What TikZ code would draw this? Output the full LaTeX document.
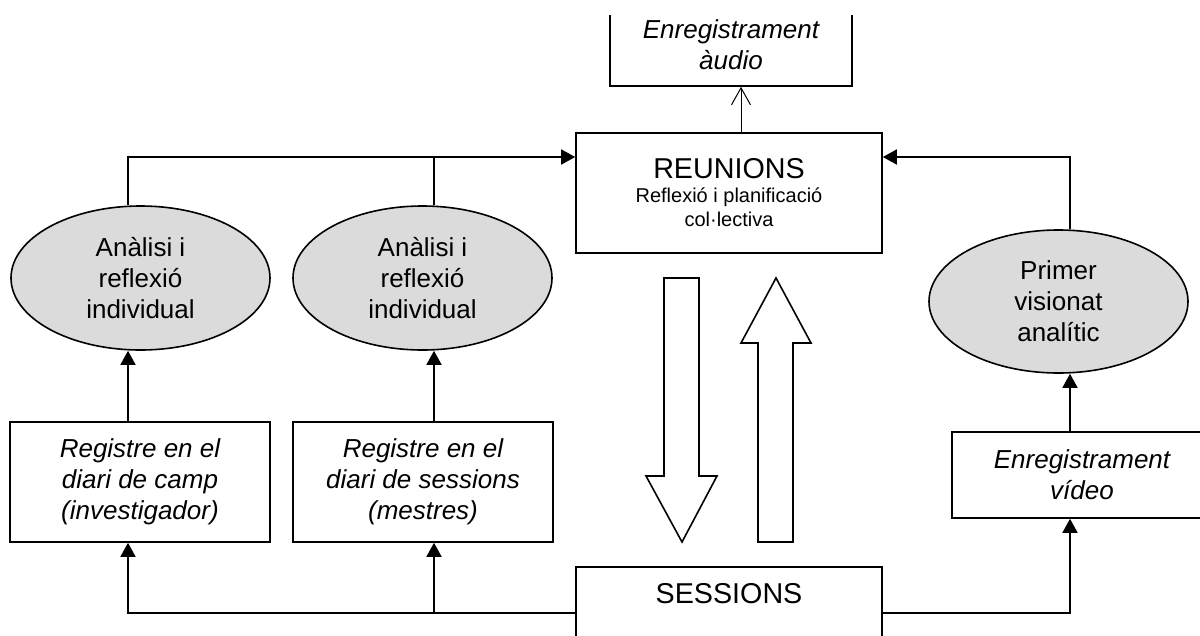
\documentclass[tikz,border=0pt]{standalone}
\usepackage{fontspec}
\setmainfont{Liberation Sans}
\usetikzlibrary{arrows.meta,shapes.geometric}

\tikzset{
  box/.style={draw, line width=1.6pt, inner sep=0pt, align=center,
    font=\fontsize{26}{31}\selectfont\itshape},
  oval/.style={ellipse, draw, line width=1.6pt, fill=black!14, inner sep=0pt,
    minimum width=259pt, minimum height=144pt, align=center,
    font=\fontsize{26}{31}\selectfont},
  link/.style={line width=1.6pt},
  arr/.style={link, -{Triangle[length=14pt,width=15pt]}},
  openarr/.style={line width=1pt, -{Straight Barb[length=17pt,width=19pt,line width=1pt]}},
  blockarrow/.style={draw, line width=1.6pt, fill=white, line join=miter},
}

\begin{document}
\begin{tikzpicture}[x=1pt,y=-1pt]
\useasboundingbox (0,0) rectangle (1200,635);
\clip (0,15) rectangle (1200,635);

% helper positions of the connector lines
\coordinate (top) at (0,157);
\coordinate (bot) at (0,613);
\coordinate (c1) at (128,0);
\coordinate (c2) at (434,0);
\coordinate (c3) at (1070,0);
\coordinate (c4) at (741,0);

% boxes
\node[box, minimum width=306pt, minimum height=120pt,
  font=\fontsize{20}{24}\selectfont] (reu) at (729,193)
  {{\fontsize{28.7}{28}\selectfont REUNIONS}\\Reflexió i planificació\\col·lectiva};
\node[box, minimum width=242pt, minimum height=82pt] (aud) at (731,45)
  {Enregistrament\\àudio};
\node[box, minimum width=260pt, minimum height=120pt] (reg1) at (140,482)
  {Registre en el\\diari de camp\\(investigador)};
\node[box, minimum width=260pt, minimum height=120pt] (reg2) at (423,482)
  {Registre en el\\diari de sessions\\(mestres)};
\node[box, minimum width=260pt, minimum height=86pt] (vid) at (1082,475)
  {Enregistrament\\vídeo};
\node[box, font=\fontsize{28.7}{34}\selectfont, anchor=north,
  minimum width=306pt, text height=37pt, text depth=60pt] (ses) at (729,566)
  {SESSIONS};

% ellipses
\node[oval] (an1) at (140.5,278) {Anàlisi i\\reflexió\\individual};
\node[oval] (an2) at (422.5,278) {Anàlisi i\\reflexió\\individual};
\node[oval, minimum height=143pt] (pv) at (1058.5,301.5) {Primer\\visionat\\analític};

% connectors
\draw[arr] (an1.north -| c1) |- (reu.west |- top);
\draw[link] (an2.north -| c2) -- (c2 |- top);
\draw[arr] (pv.north -| c3) |- (reu.east |- top);
\draw[openarr] (reu.north -| c4) -- (aud.south -| c4);
\draw[arr] (reg1.north -| c1) -- (an1.south -| c1);
\draw[arr] (reg2.north -| c2) -- (an2.south -| c2);
\draw[arr] (vid.north -| c3) -- (pv.south -| c3);
\draw[arr] (ses.west |- bot) -| (reg1.south -| c1);
\draw[arr] (c2 |- bot) -- (reg2.south -| c2);
\draw[arr] (ses.east |- bot) -| (vid.south -| c3);

% hollow block arrows between meetings and sessions
\draw[blockarrow] (664,278) -- (699,278) -- (699,476) -- (717,476) -- (682,542)
  -- (646,476) -- (664,476) -- cycle;
\draw[blockarrow] (758,542) -- (793,542) -- (793,343) -- (811,343) -- (776,278)
  -- (741,343) -- (758,343) -- cycle;
\end{tikzpicture}
\end{document}
